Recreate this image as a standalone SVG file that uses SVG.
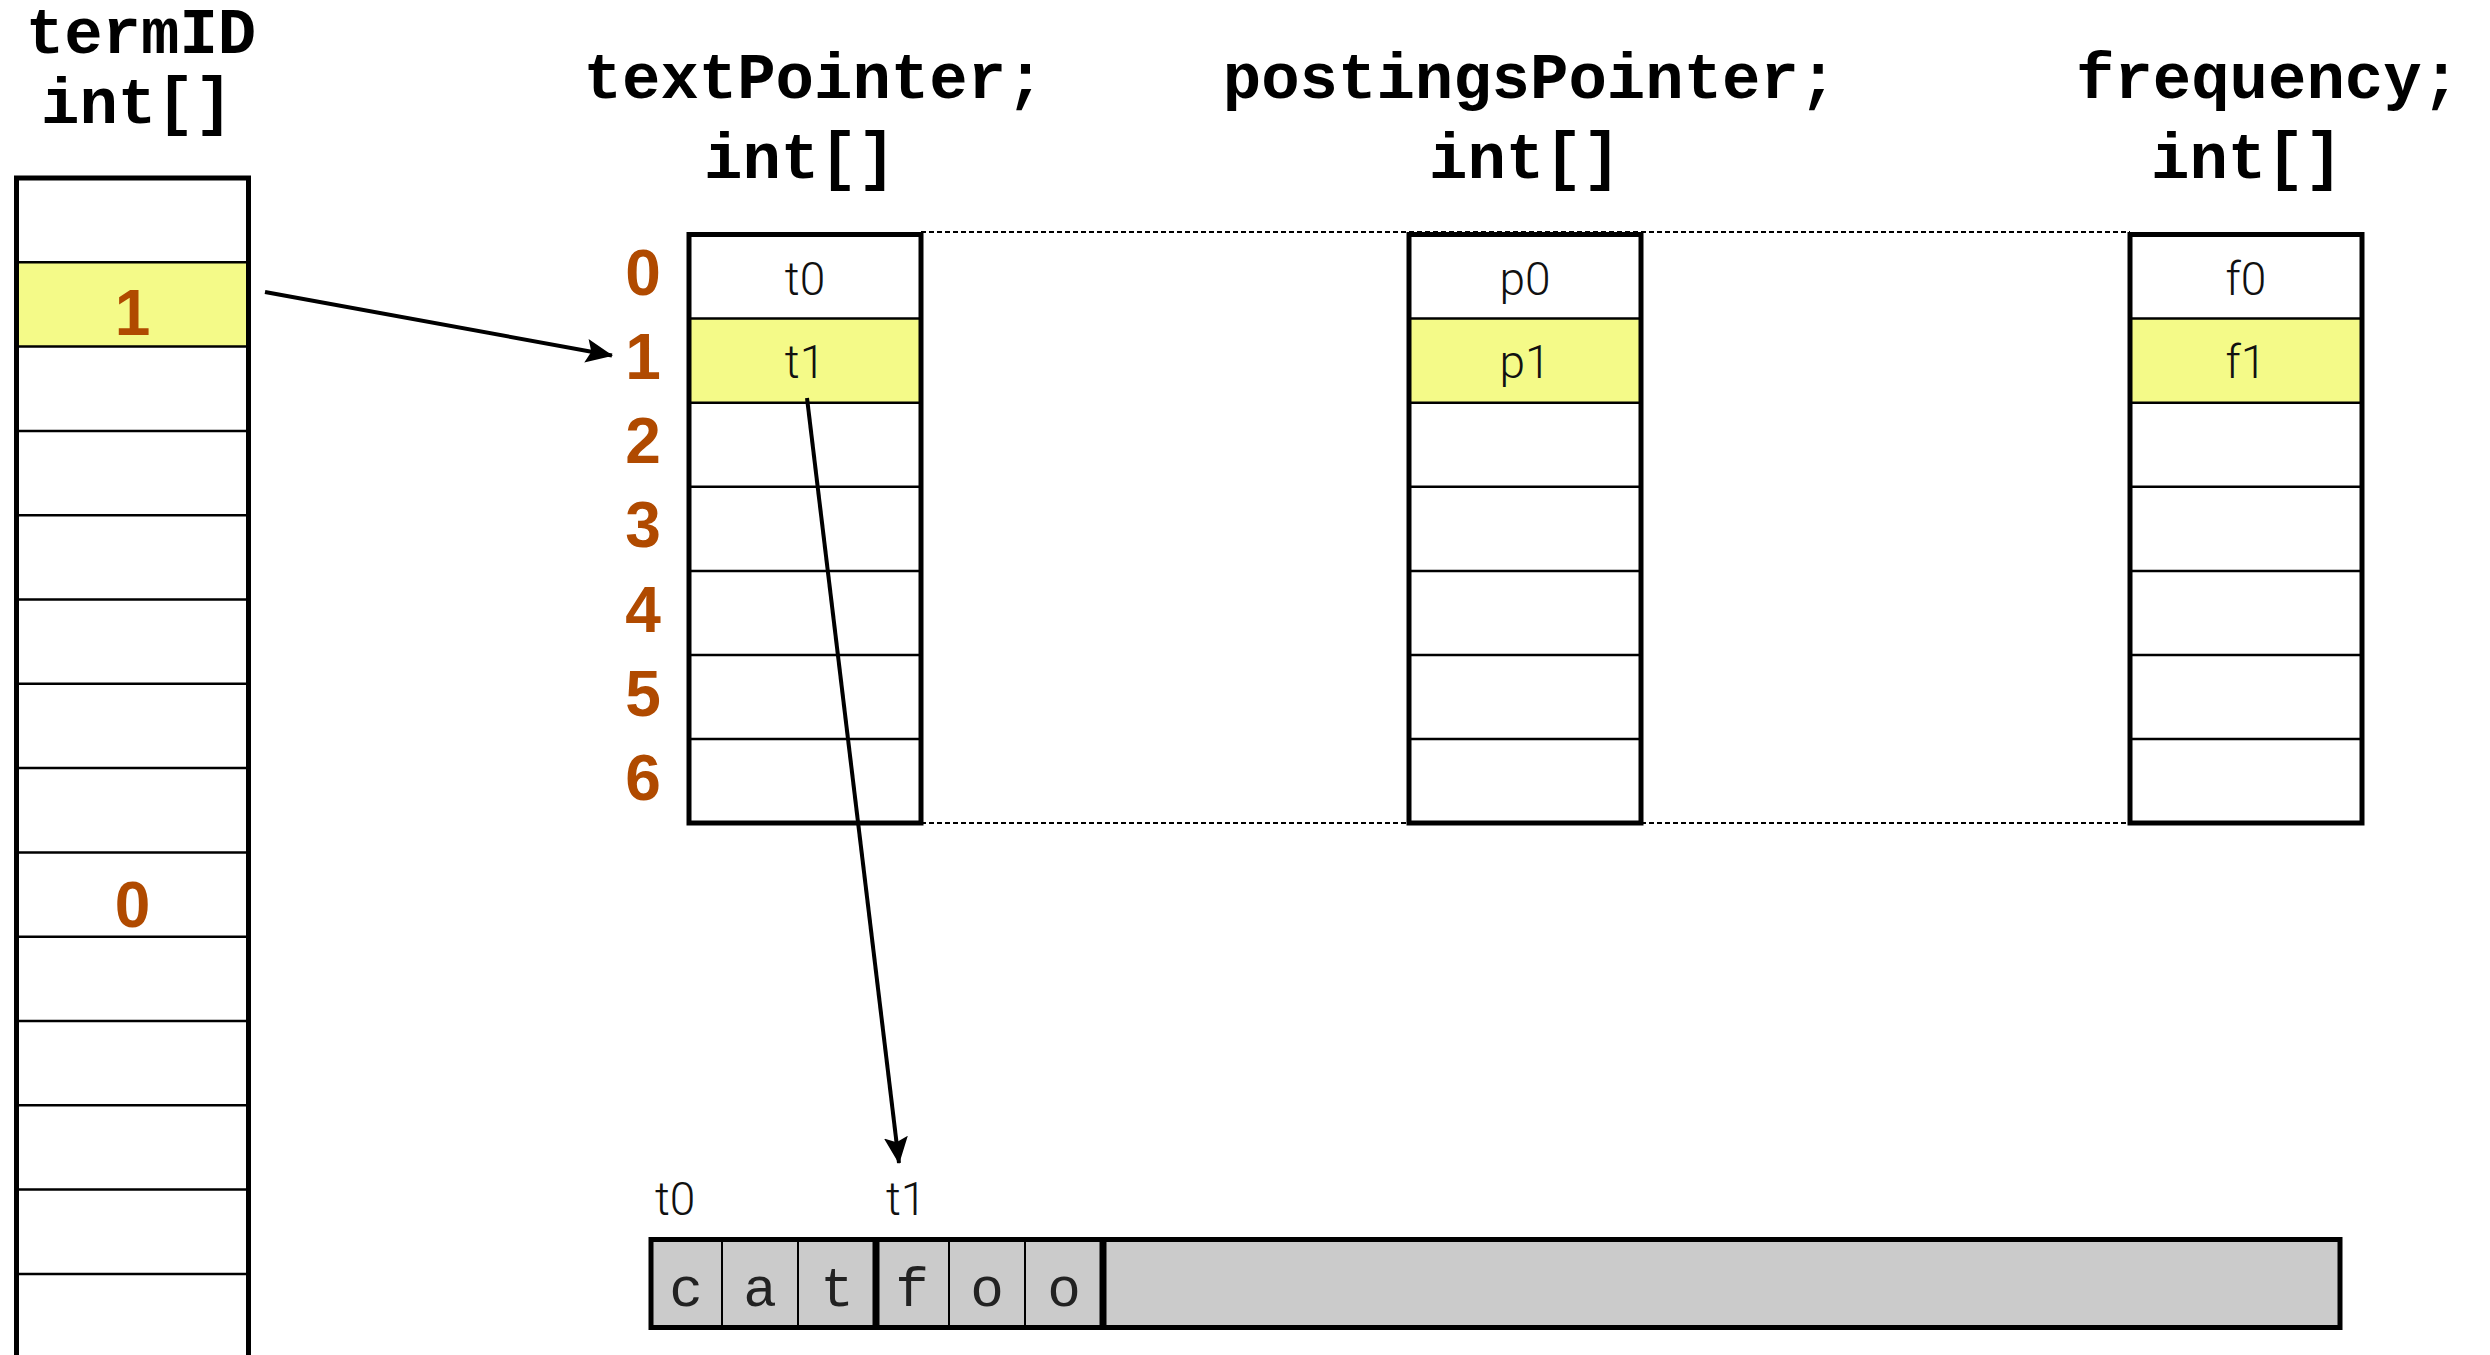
<svg xmlns="http://www.w3.org/2000/svg" width="2490" height="1355" viewBox="0 0 2490 1355">
<style>
.hdr{font-family:"Liberation Mono","Courier New",monospace;font-weight:bold;font-size:64px;fill:#000;text-anchor:middle}
.idx{font-family:"Liberation Sans",Arial,sans-serif;font-weight:bold;font-size:64px;fill:#B04A00;text-anchor:middle}
.cell{font-family:Roboto,"Liberation Sans",sans-serif;font-weight:300;font-size:46px;fill:#111;text-anchor:middle}
.lbl{font-family:Roboto,"Liberation Sans",sans-serif;font-weight:300;font-size:46px;fill:#111}
.chr{font-family:"Liberation Mono","Courier New",monospace;font-size:56px;fill:#222;text-anchor:middle}
.outer{fill:none;stroke:#000;stroke-width:5}
.row{stroke:#000;stroke-width:2.5}
.hl{fill:#F4FA88}
.white{fill:#fff}
.gray{fill:#CBCBCB}
.sepThin{stroke:#000;stroke-width:2}
.sepThick{stroke:#000;stroke-width:7}
.dots{stroke:#000;stroke-width:2;stroke-dasharray:5 3;fill:none}
.conn{stroke:#000;stroke-width:4;fill:none}
</style>
<defs>
<marker id="arr" markerUnits="userSpaceOnUse" markerWidth="30" markerHeight="26" refX="26" refY="12" orient="auto">
<path d="M0,0 L27,12 L0,24 L5,12 z" fill="#000"/>
</marker>
</defs>

<g id="guides">
<line class="dots" x1="921" y1="232" x2="2130" y2="232"/>
<line class="dots" x1="921" y1="823" x2="2130" y2="823"/>
</g>

<g id="termID">
<text class="hdr" x="141" y="53">termID</text>
<text class="hdr" x="137" y="123">int[]</text>
<rect class="white" x="16.5" y="178" width="232" height="1190"/>
<rect class="hl" x="16.5" y="262.3" width="232" height="84.3"/>
<line class="row" x1="16.5" y1="262.3" x2="248.5" y2="262.3"/>
<line class="row" x1="16.5" y1="346.6" x2="248.5" y2="346.6"/>
<line class="row" x1="16.5" y1="430.9" x2="248.5" y2="430.9"/>
<line class="row" x1="16.5" y1="515.2" x2="248.5" y2="515.2"/>
<line class="row" x1="16.5" y1="599.5" x2="248.5" y2="599.5"/>
<line class="row" x1="16.5" y1="683.8" x2="248.5" y2="683.8"/>
<line class="row" x1="16.5" y1="768.1" x2="248.5" y2="768.1"/>
<line class="row" x1="16.5" y1="852.4" x2="248.5" y2="852.4"/>
<line class="row" x1="16.5" y1="936.7" x2="248.5" y2="936.7"/>
<line class="row" x1="16.5" y1="1021" x2="248.5" y2="1021"/>
<line class="row" x1="16.5" y1="1105.3" x2="248.5" y2="1105.3"/>
<line class="row" x1="16.5" y1="1189.6" x2="248.5" y2="1189.6"/>
<line class="row" x1="16.5" y1="1273.9" x2="248.5" y2="1273.9"/>
<rect class="outer" x="16.5" y="178" width="232" height="1190"/>
<text class="idx" x="132.5" y="335">1</text>
<text class="idx" x="132.5" y="927">0</text>
</g>

<g id="indexLabels">
<text class="idx" x="643" y="295">0</text>
<text class="idx" x="643" y="379">1</text>
<text class="idx" x="643" y="463">2</text>
<text class="idx" x="643" y="547">3</text>
<text class="idx" x="643" y="632">4</text>
<text class="idx" x="643" y="716">5</text>
<text class="idx" x="643" y="800">6</text>
</g>

<g id="textPointer">
<text class="hdr" x="814" y="98">textPointer;</text>
<text class="hdr" x="800" y="178">int[]</text>
<rect class="white" x="689" y="234.5" width="232" height="588.5"/>
<rect class="hl" x="689" y="318.6" width="232" height="84.1"/>
<line class="row" x1="689" y1="318.6" x2="921" y2="318.6"/>
<line class="row" x1="689" y1="402.7" x2="921" y2="402.7"/>
<line class="row" x1="689" y1="486.8" x2="921" y2="486.8"/>
<line class="row" x1="689" y1="570.9" x2="921" y2="570.9"/>
<line class="row" x1="689" y1="655" x2="921" y2="655"/>
<line class="row" x1="689" y1="739.1" x2="921" y2="739.1"/>
<rect class="outer" x="689" y="234.5" width="232" height="588.5"/>
<text class="cell" x="805" y="295">t0</text>
<text class="cell" x="805" y="378">t1</text>
</g>

<g id="postingsPointer">
<text class="hdr" x="1530" y="98">postingsPointer;</text>
<text class="hdr" x="1525" y="178">int[]</text>
<rect class="white" x="1409" y="234.5" width="232" height="588.5"/>
<rect class="hl" x="1409" y="318.6" width="232" height="84.1"/>
<line class="row" x1="1409" y1="318.6" x2="1641" y2="318.6"/>
<line class="row" x1="1409" y1="402.7" x2="1641" y2="402.7"/>
<line class="row" x1="1409" y1="486.8" x2="1641" y2="486.8"/>
<line class="row" x1="1409" y1="570.9" x2="1641" y2="570.9"/>
<line class="row" x1="1409" y1="655" x2="1641" y2="655"/>
<line class="row" x1="1409" y1="739.1" x2="1641" y2="739.1"/>
<rect class="outer" x="1409" y="234.5" width="232" height="588.5"/>
<text class="cell" x="1525" y="295">p0</text>
<text class="cell" x="1525" y="378">p1</text>
</g>

<g id="frequency">
<text class="hdr" x="2268" y="98">frequency;</text>
<text class="hdr" x="2247" y="178">int[]</text>
<rect class="white" x="2130" y="234.5" width="232" height="588.5"/>
<rect class="hl" x="2130" y="318.6" width="232" height="84.1"/>
<line class="row" x1="2130" y1="318.6" x2="2362" y2="318.6"/>
<line class="row" x1="2130" y1="402.7" x2="2362" y2="402.7"/>
<line class="row" x1="2130" y1="486.8" x2="2362" y2="486.8"/>
<line class="row" x1="2130" y1="570.9" x2="2362" y2="570.9"/>
<line class="row" x1="2130" y1="655" x2="2362" y2="655"/>
<line class="row" x1="2130" y1="739.1" x2="2362" y2="739.1"/>
<rect class="outer" x="2130" y="234.5" width="232" height="588.5"/>
<text class="cell" x="2246" y="295">f0</text>
<text class="cell" x="2246" y="378">f1</text>
</g>

<g id="charArray">
<text class="lbl" x="655" y="1215">t0</text>
<text class="lbl" x="886" y="1215">t1</text>
<rect class="gray" x="651" y="1239.5" width="1689" height="88"/>
<line class="sepThin" x1="722" y1="1239.5" x2="722" y2="1327.5"/>
<line class="sepThin" x1="798" y1="1239.5" x2="798" y2="1327.5"/>
<line class="sepThick" x1="876" y1="1239.5" x2="876" y2="1327.5"/>
<line class="sepThin" x1="949" y1="1239.5" x2="949" y2="1327.5"/>
<line class="sepThin" x1="1025" y1="1239.5" x2="1025" y2="1327.5"/>
<line class="sepThick" x1="1103" y1="1239.5" x2="1103" y2="1327.5"/>
<rect class="outer" x="651" y="1239.5" width="1689" height="88"/>
<text class="chr" x="686" y="1306">c</text>
<text class="chr" x="760" y="1306">a</text>
<text class="chr" x="837" y="1306">t</text>
<text class="chr" x="912" y="1306">f</text>
<text class="chr" x="987" y="1306">o</text>
<text class="chr" x="1064" y="1306">o</text>
</g>

<g id="connectors">
<line class="conn" x1="265" y1="292" x2="612" y2="355.5" marker-end="url(#arr)"/>
<line class="conn" x1="807" y1="398" x2="899" y2="1163" marker-end="url(#arr)"/>
</g>
</svg>
